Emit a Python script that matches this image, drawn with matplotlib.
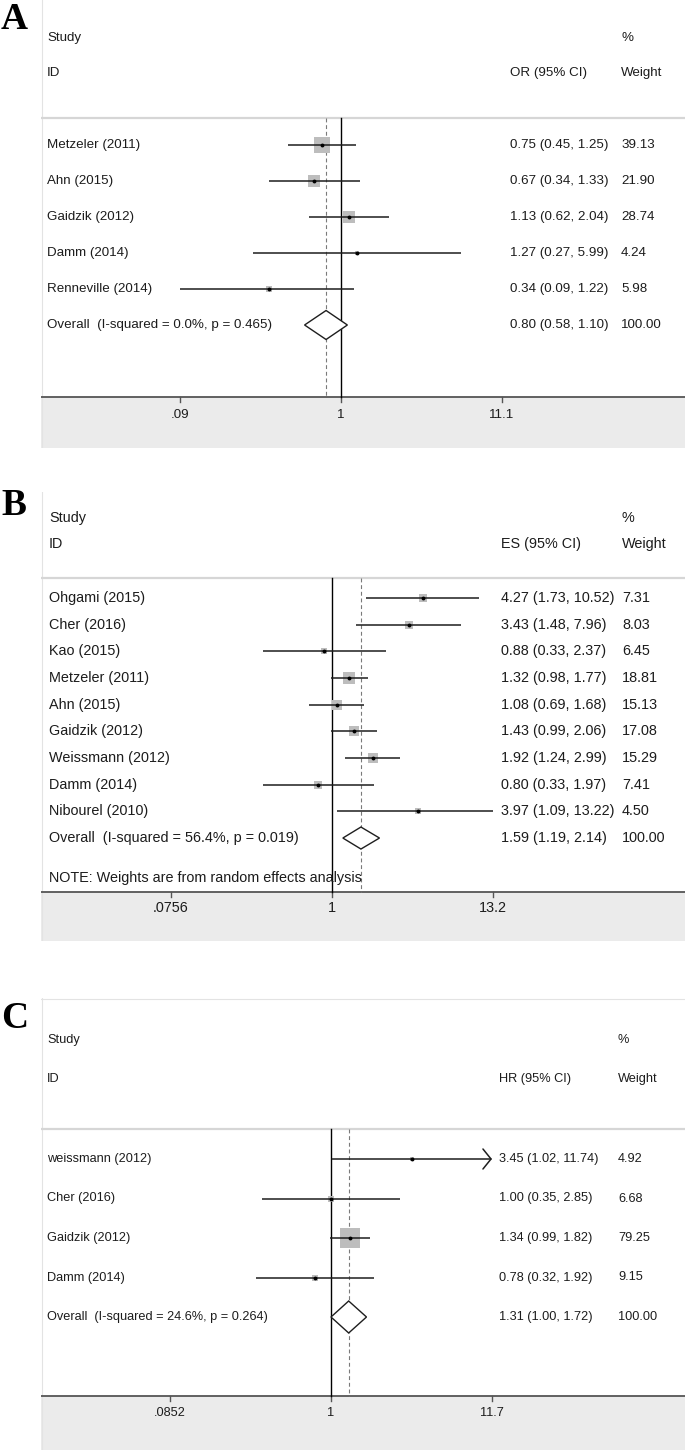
import numpy as np
import matplotlib
matplotlib.use("Agg")
import matplotlib.pyplot as plt
from matplotlib.patches import Polygon

# ---------------- data ----------------
# panel A (OR)
studies_a = ["Metzeler (2011)", "Ahn (2015)", "Gaidzik (2012)", "Damm (2014)", "Renneville (2014)"]
est_a = [0.75, 0.67, 1.13, 1.27, 0.34]
lo_a = [0.45, 0.34, 0.62, 0.27, 0.09]
hi_a = [1.25, 1.33, 2.04, 5.99, 1.22]
wt_a = [39.13, 21.90, 28.74, 4.24, 5.98]
overall_a = [0.80, 0.58, 1.10]
het_a = "I-squared = 0.0%, p = 0.465"
ticks_a = [0.09, 1, 11.1]
ticklab_a = [".09", "1", "11.1"]

# panel B (ES)
studies_b = ["Ohgami (2015)", "Cher (2016)", "Kao (2015)", "Metzeler (2011)", "Ahn (2015)",
             "Gaidzik (2012)", "Weissmann (2012)", "Damm (2014)", "Nibourel (2010)"]
est_b = [4.27, 3.43, 0.88, 1.32, 1.08, 1.43, 1.92, 0.80, 3.97]
lo_b = [1.73, 1.48, 0.33, 0.98, 0.69, 0.99, 1.24, 0.33, 1.09]
hi_b = [10.52, 7.96, 2.37, 1.77, 1.68, 2.06, 2.99, 1.97, 13.22]
wt_b = [7.31, 8.03, 6.45, 18.81, 15.13, 17.08, 15.29, 7.41, 4.50]
overall_b = [1.59, 1.19, 2.14]
het_b = "I-squared = 56.4%, p = 0.019"
ticks_b = [0.0756, 1, 13.2]
ticklab_b = [".0756", "1", "13.2"]

# panel C (HR)
studies_c = ["weissmann (2012)", "Cher (2016)", "Gaidzik (2012)", "Damm (2014)"]
est_c = [3.45, 1.00, 1.34, 0.78]
lo_c = [1.02, 0.35, 0.99, 0.32]
hi_c = [11.74, 2.85, 1.82, 1.92]
wt_c = [4.92, 6.68, 79.25, 9.15]
overall_c = [1.31, 1.00, 1.72]
het_c = "I-squared = 24.6%, p = 0.264"
ticks_c = [0.0852, 1, 11.7]
ticklab_c = [".0852", "1", "11.7"]

#########################################
W, H = 685, 1453
X0 = 41  # left edge of the panels (px)
SANS = ["Liberation Sans", "DejaVu Sans"]
TXT = "#1c1c1c"

fig = plt.figure(figsize=(W / 100, H / 100), dpi=100)

lay_a = dict(top=0, bottom=448, study_y=38, id_y=73, sep=118, row0=145, step=36.0,
             axis=397, tick_y=415, tick_px=[180, 341, 502], tx=47, cx=510, cw=621,
             fs=9.6, box=2.4, dia=14.5, letter="A", letter_base=29, topline=False)
lay_b = dict(top=492, bottom=941, study_y=518, id_y=544, sep=578, row0=598, step=26.67,
             axis=892, tick_y=908, tick_px=[171, 332, 493], tx=49, cx=501, cw=622,
             fs=10.4, box=2.6, dia=11, letter="B", letter_base=515, note_y=878, topline=False)
lay_c = dict(top=998, bottom=1450, study_y=1040, id_y=1079, sep=1129, row0=1159, step=39.5,
             axis=1396, tick_y=1413, tick_px=[171, 331, 492], tx=47, cx=499, cw=618,
             fs=9.2, box=2.15, dia=16, letter="C", letter_base=1028, topline=True)


def draw_panel(lay, studies, est, lo, hi, wt, overall, het, ticks, ticklab, eff_lbl,
               note=None, xclip=None):
    top, bot = lay["top"], lay["bottom"]
    ax = fig.add_axes([X0 / W, 1 - bot / H, (W - X0) / W, (bot - top) / H])
    px1 = lay["tick_px"][1]
    k = (lay["tick_px"][2] - px1) / np.log(ticks[2])

    def to_val(px):
        return np.exp((px - px1) / k)

    ax.set_xscale("log")
    ax.set_xlim(to_val(X0), to_val(W))
    ax.set_ylim(bot, top)
    ax.axis("off")
    fs = lay["fs"]

    # frame, header rule, grey axis band
    ax.axhspan(lay["axis"], bot, color="#ebebeb", lw=0, zorder=0)
    ax.plot([to_val(X0 + 0.5)] * 2, [top, bot], color="#e3e3e3", lw=0.8)
    if lay["topline"]:
        ax.axhline(top + 0.5, color="#e3e3e3", lw=0.8)
    ax.axhline(lay["sep"], color="#d6d6d6", lw=1.6)
    ax.axhline(lay["axis"], color="#555555", lw=1.3)
    for t, lab in zip(ticks, ticklab):
        ax.plot([t, t], [lay["axis"], lay["axis"] + 5], color="#555555", lw=1.0)
        ax.text(t, lay["tick_y"], lab, ha="center", va="center", fontsize=fs,
                family=SANS, color=TXT)

    # headers
    ax.text(to_val(lay["tx"]), lay["study_y"], "Study", va="center", fontsize=fs, family=SANS, color=TXT)
    ax.text(to_val(lay["cw"]), lay["study_y"], "%", va="center", fontsize=fs, family=SANS, color=TXT)
    ax.text(to_val(lay["tx"]), lay["id_y"], "ID", va="center", fontsize=fs, family=SANS, color=TXT)
    ax.text(to_val(lay["cx"]), lay["id_y"], eff_lbl, va="center", fontsize=fs, family=SANS, color=TXT)
    ax.text(to_val(lay["cw"]), lay["id_y"], "Weight", va="center", fontsize=fs, family=SANS, color=TXT)

    # null line and pooled estimate line
    ax.plot([1, 1], [lay["sep"], lay["axis"]], color="black", lw=1.0)
    ax.plot([overall[0]] * 2, [lay["sep"], lay["axis"]], color="#7a7a7a", lw=0.8, dashes=(3.5, 2.5))

    ys = lay["row0"] + lay["step"] * np.arange(len(studies) + 1)
    for i, name in enumerate(studies):
        y = ys[i]
        side = lay["box"] * np.sqrt(wt[i]) * 0.72
        ax.plot(est[i], y, marker="s", ms=side, color="#bdbdbd", mew=0, zorder=2)
        h = hi[i]
        if xclip is not None and h > xclip:
            ax.annotate("", xy=(xclip, y), xytext=(lo[i], y),
                        arrowprops=dict(arrowstyle="->,head_length=0.58,head_width=0.72",
                                        color="#1e1e1e", lw=1.1, shrinkA=0, shrinkB=0), zorder=3)
        else:
            ax.plot([lo[i], h], [y, y], color="#1e1e1e", lw=1.1, solid_capstyle="butt", zorder=3)
        ax.plot(est[i], y, "o", ms=2.8, color="black", mew=0, zorder=4)
        ax.text(to_val(lay["tx"]), y, name, va="center", fontsize=fs, family=SANS, color=TXT)
        ax.text(to_val(lay["cx"]), y, f"{est[i]:.2f} ({lo[i]:.2f}, {h:.2f})", va="center",
                fontsize=fs, family=SANS, color=TXT)
        ax.text(to_val(lay["cw"]), y, f"{wt[i]:.2f}", va="center", fontsize=fs, family=SANS, color=TXT)

    # overall diamond
    y = ys[-1]
    d = lay["dia"]
    dia = Polygon([(overall[1], y), (overall[0], y - d), (overall[2], y), (overall[0], y + d)],
                  closed=True, fill=True, fc="white", ec="#1e1e1e", lw=1.0, zorder=3)
    ax.add_patch(dia)
    ax.text(to_val(lay["tx"]), y, f"Overall  ({het})", va="center", fontsize=fs, family=SANS, color=TXT)
    ax.text(to_val(lay["cx"]), y, f"{overall[0]:.2f} ({overall[1]:.2f}, {overall[2]:.2f})",
            va="center", fontsize=fs, family=SANS, color=TXT)
    ax.text(to_val(lay["cw"]), y, "100.00", va="center", fontsize=fs, family=SANS, color=TXT)

    if note:
        ax.text(to_val(lay["tx"]), lay["note_y"], note, va="center", fontsize=fs, family=SANS, color=TXT)

    fig.text(1 / W, 1 - lay["letter_base"] / H, lay["letter"], fontsize=27, fontweight="bold",
             family=["Liberation Serif", "DejaVu Serif"], va="baseline", ha="left", color="black")
    return ax


draw_panel(lay_a, studies_a, est_a, lo_a, hi_a, wt_a, overall_a, het_a, ticks_a, ticklab_a, "OR (95% CI)")
draw_panel(lay_b, studies_b, est_b, lo_b, hi_b, wt_b, overall_b, het_b, ticks_b, ticklab_b, "ES (95% CI)",
           note="NOTE: Weights are from random effects analysis")
draw_panel(lay_c, studies_c, est_c, lo_c, hi_c, wt_c, overall_c, het_c, ticks_c, ticklab_c, "HR (95% CI)",
           xclip=ticks_c[2])

fig.savefig("out.png", dpi=100, facecolor="white")
